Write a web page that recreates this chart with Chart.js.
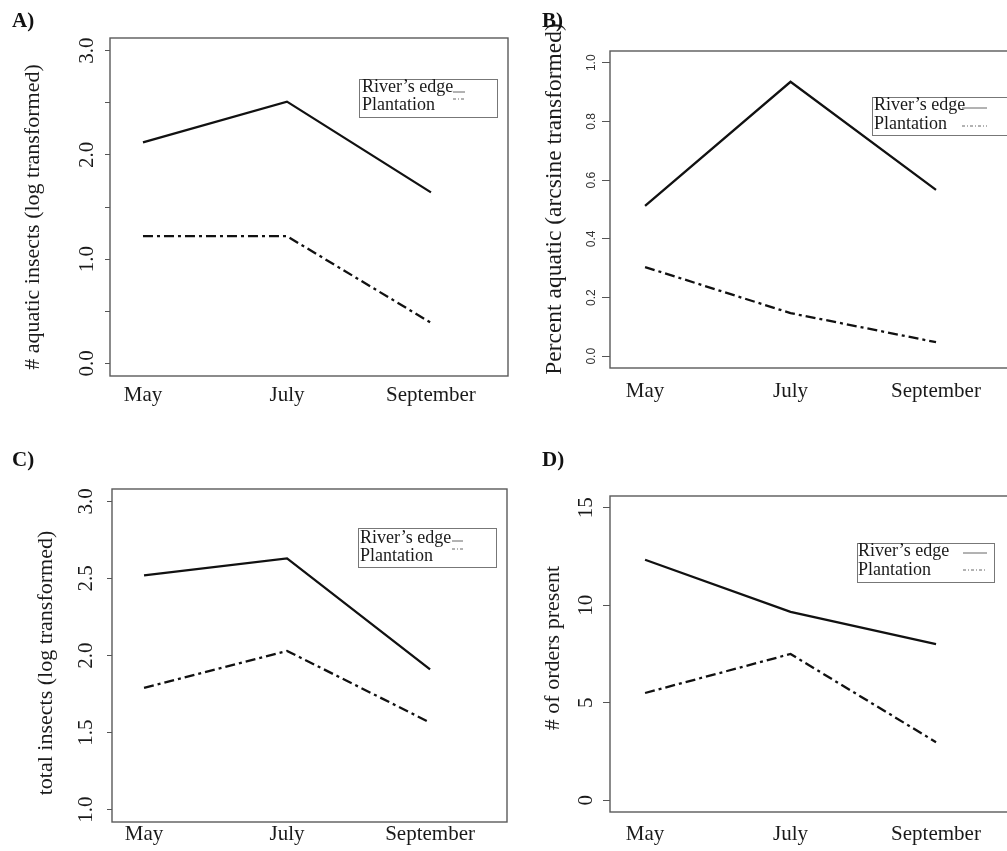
<!DOCTYPE html>
<html>
<head>
<meta charset="utf-8">
<script src="https://cdn.jsdelivr.net/npm/chart.js@4.4.0/dist/chart.umd.min.js"></script>
<style>
html, body { margin: 0; padding: 0; background: #fff; overflow: hidden; width: 1007px; height: 851px; }
canvas { position: absolute; }
.tag { position: absolute; font: bold 21px "Liberation Serif", serif; color: #111; }
</style>
</head>
<body>
<canvas id="panelA" width="520" height="420" style="left:0;top:0"></canvas>
<canvas id="panelB" width="512" height="420" style="left:503px;top:0"></canvas>
<canvas id="panelC" width="520" height="431" style="left:0;top:420px"></canvas>
<canvas id="panelD" width="512" height="431" style="left:503px;top:420px"></canvas>
<div class="tag" style="left:12px;top:8px">A)</div>
<div class="tag" style="left:542px;top:8px">B)</div>
<div class="tag" style="left:12px;top:447px">C)</div>
<div class="tag" style="left:542px;top:447px">D)</div>
<script>
// data
const months = ['May', 'July', 'September'];
const seriesNames = ["River\u2019s edge", 'Plantation'];

const aquaticRiver = [2.12, 2.51, 1.64];
const aquaticPlant = [1.22, 1.22, 0.39];
const percentRiver = [0.512, 0.935, 0.567];
const percentPlant = [0.304, 0.147, 0.048];
const totalRiver = [2.52, 2.63, 1.91];
const totalPlant = [1.79, 2.03, 1.565];
const ordersRiver = [12.33, 9.66, 8.01];
const ordersPlant = [5.5, 7.5, 2.98];

const ticksA = [0, 0.5, 1, 1.5, 2, 2.5, 3];
const labelsA = ['0.0', '', '1.0', '', '2.0', '', '3.0'];
const ticksB = [0, 0.2, 0.4, 0.6, 0.8, 1.0];
const labelsB = ['0.0', '0.2', '0.4', '0.6', '0.8', '1.0'];
const ticksC = [1, 1.5, 2, 2.5, 3];
const labelsC = ['1.0', '1.5', '2.0', '2.5', '3.0'];
const ticksD = [0, 5, 10, 15];
const labelsD = ['0', '5', '10', '15'];

const serif = '"Liberation Serif", "Times New Roman", serif';
const plantDash = [10, 4, 3, 4];

function points(vals) {
  return vals.map((v, i) => ({ x: i + 1, y: v }));
}

// R style: box, rotated tick labels, axis title, legend with line samples after the text
function rStyle(p) {
  return {
    id: 'rStyle',
    afterDatasetsDraw(chart) {
      const ctx = chart.ctx, a = chart.chartArea, ys = chart.scales.y;
      ctx.save();
      ctx.strokeStyle = '#5a5a5a';
      ctx.lineWidth = 1.4;
      ctx.setLineDash([]);
      ctx.strokeRect(a.left, a.top, a.right - a.left, a.bottom - a.top);

      ctx.fillStyle = p.tickColor;
      ctx.font = p.tickFont;
      ctx.textAlign = 'center';
      ctx.textBaseline = 'alphabetic';
      p.ticks.forEach((v, i) => {
        if (!p.labels[i]) return;
        ctx.save();
        ctx.translate(a.left - p.tickGap, ys.getPixelForValue(v));
        ctx.rotate(-Math.PI / 2);
        ctx.fillText(p.labels[i], 0, 0);
        ctx.restore();
      });

      // y axis title
      ctx.save();
      ctx.fillStyle = '#1a1a1a';
      ctx.font = p.titleSize + 'px ' + serif;
      ctx.textAlign = 'center';
      ctx.textBaseline = 'middle';
      ctx.translate(p.titleX, p.titleY);
      ctx.rotate(-Math.PI / 2);
      ctx.fillText(p.title, 0, 0);
      ctx.restore();

      const L = p.legend;
      ctx.strokeStyle = '#777';
      ctx.lineWidth = 1;
      ctx.strokeRect(L.x + 0.5, L.y + 0.5, L.w, L.h);
      ctx.font = '18px ' + serif;
      ctx.fillStyle = '#1a1a1a';
      ctx.textAlign = 'left';
      ctx.textBaseline = 'middle';
      chart.data.datasets.forEach((ds, i) => {
        ctx.fillText(ds.label, L.textX, L.rows[i]);
        ctx.beginPath();
        ctx.setLineDash(ds.borderDash && ds.borderDash.length ? [3, 2, 1, 2] : []);
        ctx.strokeStyle = '#666';
        ctx.moveTo(L.s0, L.lines[i]);
        ctx.lineTo(L.s1, L.lines[i]);
        ctx.stroke();
      });
      ctx.restore();
    }
  };
}

function panel(id, river, plant, p) {
  new Chart(document.getElementById(id), {
    type: 'line',
    data: {
      datasets: [{
        label: seriesNames[0],
        data: points(river),
        borderColor: '#111',
        borderWidth: 2.3,
        pointRadius: 0,
        tension: 0
      }, {
        label: seriesNames[1],
        data: points(plant),
        borderColor: '#111',
        borderWidth: 2.3,
        borderDash: plantDash,
        pointRadius: 0,
        tension: 0
      }]
    },
    options: {
      responsive: false,
      animation: false,
      devicePixelRatio: 1,
      layout: { padding: { top: p.top, right: p.right, left: 0, bottom: 0 } },
      plugins: { legend: { display: false }, tooltip: { enabled: false } },
      scales: {
        x: {
          type: 'linear',
          min: p.xmin,
          max: p.xmax,
          afterBuildTicks: s => { s.ticks = months.map((m, i) => ({ value: i + 1 })); },
          afterFit: s => { s.height = p.xHeight; },
          grid: { display: false, drawTicks: false },
          border: { display: false },
          ticks: {
            autoSkip: false,
            maxRotation: 0,
            padding: p.xPad,
            color: '#1a1a1a',
            font: { family: serif, size: 21 },
            callback: (v, i) => months[i]
          }
        },
        y: {
          type: 'linear',
          min: p.ymin,
          max: p.ymax,
          afterBuildTicks: s => { s.ticks = p.ticks.map(v => ({ value: v })); },
          afterFit: s => { s.width = p.yWidth; },
          grid: { display: true, drawOnChartArea: false, drawTicks: true, tickLength: p.tickLen, color: '#555', lineWidth: 1 },
          border: { display: false },
          ticks: { display: false },
          title: { display: false }
        }
      }
    },
    plugins: [rStyle(p)]
  });
}

panel('panelA', aquaticRiver, aquaticPlant, {
  title: '# aquatic insects (log transformed)', titleSize: 22, titleX: 33, titleY: 217,
  top: 38, right: 12, xHeight: 44, yWidth: 110, xPad: 7,
  xmin: 0.771, xmax: 3.535, ymin: -0.12, ymax: 3.12,
  ticks: ticksA, labels: labelsA, tickLen: 5, tickGap: 17,
  tickFont: '21px ' + serif, tickColor: '#1a1a1a',
  legend: { x: 359, y: 79, w: 138, h: 38, textX: 362, rows: [87, 105], s0: 453, s1: 465, lines: [92, 99] }
});

panel('panelB', percentRiver, percentPlant, {
  title: 'Percent aquatic (arcsine transformed)', titleSize: 23.5, titleX: 52, titleY: 199,
  top: 51, right: 1, xHeight: 52, yWidth: 107, xPad: 11,
  xmin: 0.759, xmax: 3.536, ymin: -0.04, ymax: 1.04,
  ticks: ticksB, labels: labelsB, tickLen: 8, tickGap: 15,
  tickFont: '12px "Liberation Sans", Arial, sans-serif', tickColor: '#333',
  legend: { x: 369, y: 97, w: 160, h: 38, textX: 371, rows: [105, 124], s0: 459, s1: 484, lines: [108, 126] }
});

panel('panelC', totalRiver, totalPlant, {
  title: 'total insects (log transformed)', titleSize: 22, titleX: 46, titleY: 243,
  top: 69, right: 13, xHeight: 29, yWidth: 112, xPad: 0,
  xmin: 0.776, xmax: 3.538, ymin: 0.92, ymax: 3.08,
  ticks: ticksC, labels: labelsC, tickLen: 5, tickGap: 20,
  tickFont: '21px ' + serif, tickColor: '#1a1a1a',
  legend: { x: 358, y: 108, w: 138, h: 39, textX: 360, rows: [118, 136], s0: 452, s1: 463, lines: [121, 129] }
});

panel('panelD', ordersRiver, ordersPlant, {
  title: '# of orders present', titleSize: 22, titleX: 50, titleY: 228,
  top: 76, right: 1, xHeight: 39, yWidth: 107, xPad: 10,
  xmin: 0.759, xmax: 3.536, ymin: -0.6, ymax: 15.6,
  ticks: ticksD, labels: labelsD, tickLen: 7, tickGap: 18,
  tickFont: '21px ' + serif, tickColor: '#1a1a1a',
  legend: { x: 354, y: 123, w: 137, h: 39, textX: 355, rows: [131, 150], s0: 460, s1: 484, lines: [133, 150] }
});
</script>
</body>
</html>
